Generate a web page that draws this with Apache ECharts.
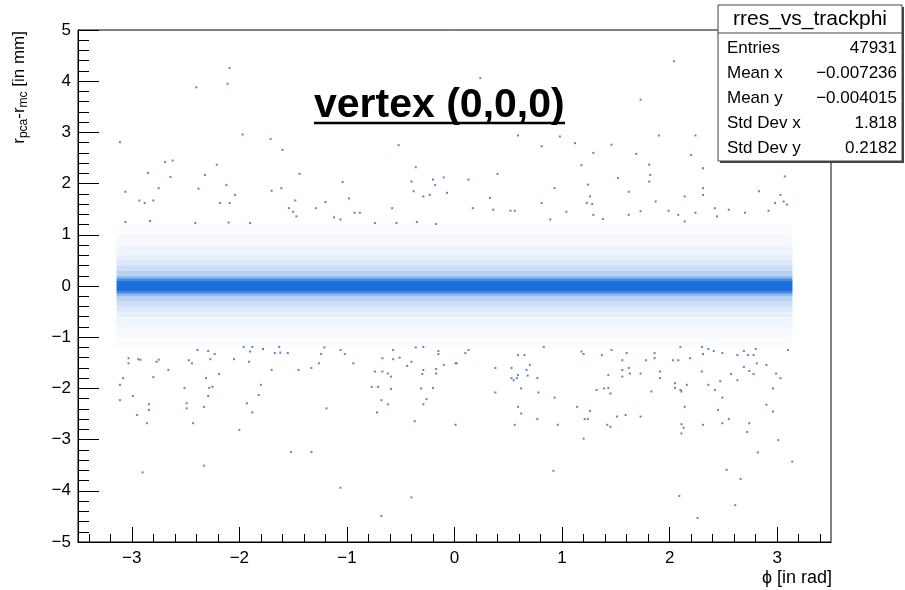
<!DOCTYPE html>
<html><head><meta charset="utf-8">
<script src="https://cdn.jsdelivr.net/npm/echarts@6/dist/echarts.min.js"></script>
<style>html,body{margin:0;padding:0;background:#fff}#c{width:905px;height:590px}</style>
</head><body><div id="c"></div>
<script>
// ---- data ----
const xMajorTicks = [-3, -2, -1, 0, 1, 2, 3];
const xMinorTicks = [-3.4,-3.2,-2.8,-2.6,-2.4,-2.2,-1.8,-1.6,-1.4,-1.2,-0.8,-0.6,-0.4,-0.2,0.2,0.4,0.6,0.8,1.2,1.4,1.6,1.8,2.2,2.4,2.6,2.8,3.2,3.4];
const phiRange = [-3.1416, 3.1416];
// dense band around zero: y-bin edges and relative point density (0..1)
const bandEdges = [-1.2,-1.0,-0.8,-0.6,-0.5,-0.4,-0.3,-0.2,-0.15,-0.1,0.1,0.15,0.2,0.3,0.4,0.5,0.6,0.8,1.0,1.2];
const bandDensity = [0.02,0.04,0.07,0.11,0.16,0.22,0.31,0.47,0.8,1,0.8,0.47,0.31,0.22,0.16,0.11,0.07,0.04,0.02];
// sparse entries outside the band [phi, r_pca - r_mc]
const sparsePoints = [
[-2.09,4.26],[-2.11,3.95],[-2.40,3.88],[-3.11,2.81],[-1.97,2.96],[-1.71,2.87],[-1.60,2.66],[-0.52,2.75],[-2.69,2.42],[-2.62,2.45],
[-2.85,2.21],[-2.21,2.37],[-2.32,2.17],[-2.64,2.13],[-2.75,1.91],[-3.06,1.84],[-2.38,1.90],[-2.12,1.97],[-1.44,2.19],[-1.61,1.91],
[-1.70,1.86],[-1.04,2.03],[-0.36,2.32],[-0.40,2.04],[-0.38,1.85],[-0.20,2.08],[-0.10,2.12],[-0.18,1.97],[-0.23,1.78],[-0.07,1.82],
[-2.93,1.67],[-2.88,1.62],[-2.80,1.67],[-2.18,1.62],[-2.09,1.62],[-2.04,1.78],[-1.48,1.67],[-1.54,1.52],[-1.50,1.45],[-1.47,1.36],
[-1.29,1.52],[-1.20,1.64],[-0.98,1.71],[-0.93,1.43],[-0.88,1.43],[-0.58,1.52],[-0.29,1.75],[-3.06,1.25],[-2.83,1.27],[-2.41,1.23],
[-2.10,1.24],[-1.90,1.23],[-1.12,1.34],[-1.06,1.30],[-0.74,1.23],[-0.54,1.23],[-0.35,1.25],[-0.17,1.21],
[2.04,4.39],[0.24,4.06],[1.73,3.64],[0.59,2.94],[0.81,2.73],[0.98,2.92],[1.90,2.94],[2.24,2.94],[1.12,2.79],[1.29,2.60],
[1.46,2.76],[1.69,2.58],[2.20,2.56],[1.18,2.36],[1.81,2.37],[1.82,2.17],[1.81,2.04],[0.40,2.19],[1.52,2.11],[2.31,2.30],
[3.07,2.14],[0.13,2.08],[0.93,1.91],[1.24,1.98],[1.26,1.75],[1.62,1.84],[2.14,1.75],[2.31,1.91],[2.31,1.78],[2.83,1.85],
[3.03,1.78],[3.06,1.65],[0.33,1.72],[0.36,1.49],[0.17,1.52],[0.52,1.47],[0.56,1.47],[0.81,1.62],[1.04,1.45],[1.23,1.62],
[1.28,1.60],[1.29,1.39],[1.38,1.31],[1.62,1.39],[1.73,1.46],[1.87,1.65],[1.99,1.47],[2.08,1.39],[2.14,1.26],[2.24,1.43],
[2.42,1.52],[2.44,1.36],[2.55,1.49],[2.70,1.43],[2.92,1.47],[2.98,1.62],[3.09,1.59],[0.89,1.30],
[-3.03,-1.41],[-3.03,-1.51],[-2.94,-1.43],[-2.92,-1.44],[-3.08,-1.80],[-3.11,-1.93],[-3.11,-2.23],[-2.99,-2.15],[-2.77,-1.48],[-2.75,-1.44],
[-2.80,-1.78],[-2.66,-1.64],[-2.95,-2.52],[-2.84,-2.31],[-2.84,-2.42],[-2.86,-2.68],[-2.90,-3.64],[-2.47,-1.45],[-2.44,-1.51],[-2.51,-1.99],
[-2.49,-2.29],[-2.49,-2.39],[-2.43,-2.68],[-2.39,-1.25],[-2.29,-1.27],[-2.23,-1.33],[-2.27,-1.43],[-2.31,-1.80],[-2.28,-1.99],[-2.25,-1.97],
[-2.29,-2.15],[-2.33,-2.36],[-2.19,-1.72],[-2.33,-3.51],[-2.05,-1.43],[-2.00,-2.81],[-1.96,-1.19],[-1.90,-1.28],[-1.91,-1.48],[-1.88,-1.19],
[-1.78,-1.23],[-1.93,-2.29],[-1.88,-2.47],[-1.80,-1.93],[-1.82,-2.13],[-1.70,-1.64],[-1.67,-1.31],[-1.62,-1.30],[-1.55,-1.31],[-1.63,-1.19],
[-1.52,-3.24],[-1.33,-3.24],[-1.45,-1.64],[-1.33,-1.60],[-1.26,-1.51],[-1.24,-1.33],[-1.21,-1.20],[-1.06,-1.25],[-1.02,-1.33],[-1.19,-2.39],
[-1.06,-3.94],[-0.94,-1.51],[-0.67,-1.41],[-0.57,-1.25],[-0.74,-1.67],[-0.67,-1.67],[-0.62,-1.71],[-0.59,-1.77],[-0.59,-2.01],[-0.77,-1.97],
[-0.71,-1.97],[-0.68,-2.23],[-0.62,-2.31],[-0.72,-2.47],[-0.68,-4.49],[-0.40,-4.13],[-0.44,-1.56],[-0.40,-1.48],[-0.29,-1.64],[-0.30,-1.72],
[-0.17,-1.62],[-0.17,-1.71],[-0.31,-2.00],[-0.20,-1.99],[-0.26,-2.21],[-0.29,-2.31],[-0.37,-2.64],[-0.10,-1.54],[0.01,-1.51],[0.01,-2.71],
[-0.36,-1.20],[-0.29,-1.19],[-0.15,-1.27],[-0.15,-1.33],[-0.57,-1.43],[-0.51,-1.40],
[0.10,-1.31],[0.13,-1.25],[0.02,-1.51],[0.38,-1.60],[0.53,-1.60],[0.53,-1.80],[0.58,-1.80],[0.59,-1.74],[0.67,-1.64],[0.68,-1.75],
[0.70,-1.54],[0.77,-1.80],[0.59,-1.35],[0.65,-1.35],[0.38,-2.08],[0.55,-1.84],[0.62,-2.00],[0.59,-2.36],[0.62,-2.49],[0.56,-2.71],
[0.77,-2.60],[0.78,-2.08],[0.93,-2.18],[0.83,-1.19],[0.96,-2.71],[0.92,-3.61],[1.14,-2.36],[1.18,-1.28],[1.20,-1.33],[1.21,-2.60],
[1.24,-2.60],[1.20,-2.98],[1.26,-2.44],[1.37,-1.35],[1.43,-1.74],[1.32,-2.03],[1.39,-2.00],[1.43,-1.99],[1.45,-2.10],[1.42,-2.71],
[1.45,-2.75],[1.46,-1.25],[1.56,-1.45],[1.56,-1.64],[1.56,-1.77],[1.62,-1.60],[1.63,-1.71],[1.60,-1.31],[1.51,-2.55],[1.59,-2.52],
[1.73,-2.55],[1.73,-1.71],[1.78,-1.45],[1.86,-1.41],[1.86,-1.31],[1.91,-1.80],[1.91,-1.67],[1.83,-2.06],[2.03,-1.45],[2.08,-1.45],
[2.19,-1.41],[2.05,-1.90],[2.05,-1.99],[2.10,-2.03],[2.11,-2.06],[2.16,-1.93],[2.14,-2.36],[2.11,-2.70],[2.13,-2.77],[2.11,-2.88],
[2.10,-1.19],[2.09,-4.10],[2.26,-4.53],[2.30,-1.67],[2.31,-2.71],[2.31,-1.33],[2.30,-1.19],[2.36,-1.23],[2.41,-1.27],[2.49,-1.31],
[2.36,-1.93],[2.42,-2.03],[2.47,-1.86],[2.49,-2.18],[2.45,-2.42],[2.49,-2.68],[2.55,-2.60],[2.53,-3.59],[2.66,-3.77],[2.61,-4.28],
[2.57,-1.72],[2.63,-1.84],[2.63,-1.35],[2.69,-1.58],[2.69,-1.27],[2.73,-1.35],[2.78,-1.35],[2.80,-1.23],[2.81,-1.51],[2.74,-1.66],
[2.78,-1.72],[2.72,-2.85],[2.74,-2.68],[2.82,-3.25],[2.90,-1.54],[2.96,-2.00],[2.90,-2.32],[2.96,-2.45],[2.99,-1.71],[3.03,-1.80],
[3.01,-3.01],[3.10,-1.25],[3.14,-3.43]
];
const histName = 'rres_vs_trackphi';
const statsLabels = ['Entries', 'Mean x', 'Mean y', 'Std Dev x', 'Std Dev y'];
const statsValues = ['47931', '\u22120.007236', '\u22120.004015', '1.818', '0.2182'];
const titleText = 'vertex (0,0,0)';
const xTitle = '\u03d5 [in rad]';

// ---- chart ----
const FONT = '"Liberation Sans", Arial, Helvetica, sans-serif';
const BLUE = '#1a6fd9';
const fmt = v => (v < 0 ? '\u2212' + Math.abs(v) : String(v));

const bandData = bandDensity.map((d, i) => [phiRange[0], phiRange[1], bandEdges[i], bandEdges[i + 1], d]);

const statsGraphics = [];
statsGraphics.push({type: 'rect', z: 100, shape: {x: 718, y: 5, width: 184, height: 156},
  style: {fill: '#fff', stroke: '#444', lineWidth: 1}});
statsGraphics.push({type: 'line', z: 101, shape: {x1: 903, y1: 7, x2: 903, y2: 162}, style: {stroke: '#444', lineWidth: 2}});
statsGraphics.push({type: 'line', z: 101, shape: {x1: 720, y1: 162, x2: 904, y2: 162}, style: {stroke: '#444', lineWidth: 2}});
statsGraphics.push({type: 'line', z: 101, shape: {x1: 718, y1: 33, x2: 902, y2: 33}, style: {stroke: '#444', lineWidth: 1}});
statsGraphics.push({type: 'text', z: 102, x: 810, y: 19,
  style: {text: histName, font: '21px ' + FONT, fill: '#000', align: 'center', verticalAlign: 'middle'}});
statsLabels.forEach((lab, i) => {
  const yy = 48 + i * 25;
  statsGraphics.push({type: 'text', z: 102, x: 727, y: yy,
    style: {text: lab, font: '17px ' + FONT, fill: '#000', align: 'left', verticalAlign: 'middle'}});
  statsGraphics.push({type: 'text', z: 102, x: 897, y: yy,
    style: {text: statsValues[i], font: '17px ' + FONT, fill: '#000', align: 'right', verticalAlign: 'middle'}});
});

const chart = echarts.init(document.getElementById('c'), null, {renderer: 'canvas'});
chart.setOption({
  animation: false,
  backgroundColor: '#fff',
  grid: {left: 78, right: 74, top: 30, bottom: 48, show: true, borderColor: '#000', borderWidth: 1, backgroundColor: 'transparent'},
  xAxis: [{
    type: 'value', min: -3.5, max: 3.5, position: 'bottom',
    axisLine: {show: true, onZero: false, lineStyle: {color: '#000', width: 1}},
    axisTick: {show: true, inside: true, length: 15, customValues: xMajorTicks, lineStyle: {color: '#000'}},
    axisLabel: {customValues: xMajorTicks, formatter: fmt, fontSize: 17, fontFamily: FONT, color: '#000', margin: 8},
    splitLine: {show: false}
  }, {
    type: 'value', min: -3.5, max: 3.5, position: 'bottom',
    axisLine: {show: false, onZero: false},
    axisTick: {show: true, inside: true, length: 8, customValues: xMinorTicks, lineStyle: {color: '#000'}},
    axisLabel: {show: false},
    splitLine: {show: false}
  }],
  yAxis: [{
    type: 'value', min: -5, max: 5, interval: 1, position: 'left',
    axisLine: {show: true, onZero: false, lineStyle: {color: '#000', width: 1}},
    axisTick: {show: true, inside: true, length: 21, lineStyle: {color: '#000'}},
    minorTick: {show: true, splitNumber: 5, length: 11, lineStyle: {color: '#000'}},
    axisLabel: {formatter: fmt, fontSize: 17, fontFamily: FONT, color: '#000', margin: 7},
    splitLine: {show: false}
  }],
  series: [{
    type: 'custom', xAxisIndex: 0, yAxisIndex: 0, data: bandData,
    encode: {x: [0, 1], y: [2, 3]}, clip: true, silent: true,
    renderItem: function (params, api) {
      const a = api.coord([api.value(0), api.value(3)]);
      const b = api.coord([api.value(1), api.value(2)]);
      return {type: 'rect', shape: {x: a[0], y: a[1], width: b[0] - a[0], height: b[1] - a[1]},
        style: {fill: BLUE, opacity: api.value(4)}};
    }
  }, {
    type: 'scatter', xAxisIndex: 0, yAxisIndex: 0, data: sparsePoints,
    symbol: 'rect', symbolSize: 2, silent: true,
    itemStyle: {color: '#3a66ad'}
  }],
  graphic: [
    {type: 'text', z: 50, x: 314, y: 106,
      style: {text: titleText, font: 'bold 41px ' + FONT, fill: '#000', align: 'left', verticalAlign: 'middle'}},
    {type: 'line', z: 50, shape: {x1: 314, y1: 123, x2: 565, y2: 123}, style: {stroke: '#000', lineWidth: 2.5}},
    {type: 'text', z: 50, x: 832, y: 578,
      style: {text: xTitle, font: '18px ' + FONT, fill: '#000', align: 'right', verticalAlign: 'middle'}},
    {type: 'text', z: 50, x: 19, y: 31, rotation: Math.PI / 2,
      style: {
        text: '{n|r}{s|pca}{n|-r}{s|mc}{n| [in mm]}',
        align: 'right', verticalAlign: 'middle',
        rich: {
          n: {fontSize: 17, fontFamily: FONT, fill: '#000', lineHeight: 22, verticalAlign: 'middle'},
          s: {fontSize: 12, fontFamily: FONT, fill: '#000', lineHeight: 22, verticalAlign: 'bottom', padding: [8, 0, 0, 0]}
        }
      }}
  ].concat(statsGraphics)
});
</script>
</body></html>
